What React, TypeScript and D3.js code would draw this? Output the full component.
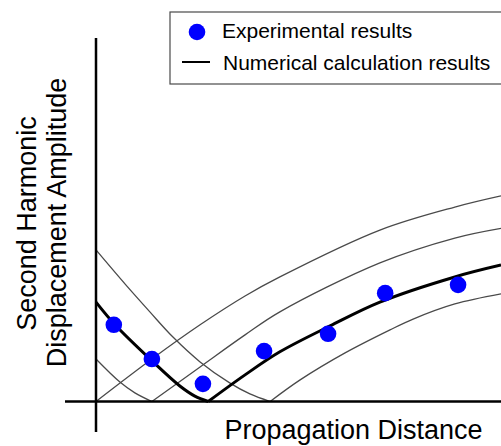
import React from "react";
import * as d3 from "d3";

// Propagation distance (arbitrary units, 0–100) and amplitude (arbitrary units, 0–100)
const curveARightX = [0, 13.8, 25.7, 36.8, 45.4, 70.1, 88.6, 100];
const curveARightY = [0, 11.8, 21.3, 29.3, 34.6, 47.6, 54.0, 57.1];

const curveBLeftX = [0, 5.9, 9.6, 13.8];
const curveBLeftY = [11.8, 5.4, 2.4, 0];
const curveBRightX = [13.8, 25.7, 36.8, 45.4, 70.1, 88.6, 100];
const curveBRightY = [0, 9.6, 18.5, 24.9, 38.5, 45.4, 48.1];

const numericLeftX = [0, 4.7, 13.8, 20.7, 24.4, 27.7];
const numericLeftY = [27.6, 21.3, 11.3, 4.3, 1.5, 0];
const numericRightX = [27.7, 36.8, 45.4, 57.8, 70.1, 88.6, 100];
const numericRightY = [0, 7.4, 13.8, 21.0, 27.6, 34.6, 37.9];

const curveDLeftX = [0, 7.2, 13.3, 19.0, 25.7, 33.1, 38.0, 43.0];
const curveDLeftY = [42.1, 32.6, 24.9, 17.9, 11.0, 5.1, 2.1, 0];
const curveDRightX = [43.0, 50.4, 61.5, 72.6, 78.3, 88.6, 100];
const curveDRightY = [0, 6.0, 13.5, 19.9, 22.9, 27.1, 29.9];

const experimentX = [4.4, 13.8, 26.4, 41.5, 57.3, 71.4, 89.4];
const experimentY = [21.3, 11.8, 4.9, 14.0, 18.8, 30.1, 32.4];

const legendLabels = ["Experimental results", "Numerical calculation results"];
const xTitle = "Propagation Distance";
const yTitleLines = ["Second Harmonic", "Displacement Amplitude"];

const W = 501;
const H = 446;

export default function App() {
  const x = d3.scaleLinear().domain([0, 100]).range([96, 501]);
  const y = d3.scaleLinear().domain([0, 100]).range([401.5, 41.5]);
  const line = d3
    .line<[number, number]>()
    .x((d) => x(d[0]))
    .y((d) => y(d[1]))
    .curve(d3.curveCatmullRom.alpha(0.5));

  const zip = (xs: number[], ys: number[]) =>
    xs.map((v, i) => [v, ys[i]] as [number, number]);

  const thin = [
    zip(curveARightX, curveARightY),
    zip(curveBLeftX, curveBLeftY),
    zip(curveBRightX, curveBRightY),
    zip(curveDLeftX, curveDLeftY),
    zip(curveDRightX, curveDRightY),
  ];
  const thick = [zip(numericLeftX, numericLeftY), zip(numericRightX, numericRightY)];
  const font = "'Liberation Sans', Arial, sans-serif";

  return (
    <svg
      width={W}
      height={H}
      style={{ position: "fixed", left: 0, top: 0, background: "#fff" }}
      fontFamily={font}
    >
      <rect x={0} y={0} width={W} height={H} fill="#fff" />
      {thin.map((d, i) => (
        <path key={"t" + i} d={line(d) || ""} fill="none" stroke="#4a4a4a" strokeWidth={1.3} />
      ))}
      {thick.map((d, i) => (
        <path key={"k" + i} d={line(d) || ""} fill="none" stroke="#000" strokeWidth={3} />
      ))}
      {/* axes */}
      <line x1={x(0)} x2={x(0)} y1={38} y2={432} stroke="#000" strokeWidth={2.5} />
      <line x1={65} x2={W} y1={y(0)} y2={y(0)} stroke="#000" strokeWidth={2.5} />
      {experimentX.map((v, i) => (
        <circle key={"c" + i} cx={x(v)} cy={y(experimentY[i])} r={8.3} fill="#0000ff" />
      ))}
      {/* legend */}
      <rect x={170} y={12} width={345} height={72} fill="#fff" stroke="#4a4a4a" strokeWidth={1.2} />
      <circle cx={197} cy={32} r={8.3} fill="#0000ff" />
      <line x1={182} x2={210} y1={62} y2={62} stroke="#000" strokeWidth={2} />
      <text x={222} y={37.5} fontSize={21} fill="#000">
        {legendLabels[0]}
      </text>
      <text x={223} y={69.5} fontSize={21} fill="#000">
        {legendLabels[1]}
      </text>
      {/* axis titles */}
      <text x={353.5} y={439} fontSize={27} textAnchor="middle" fill="#000">
        {xTitle}
      </text>
      <text
        transform="translate(36,223.5) rotate(-90)"
        fontSize={27}
        textAnchor="middle"
        fill="#000"
      >
        {yTitleLines[0]}
      </text>
      <text
        transform="translate(66,222.5) rotate(-90)"
        fontSize={27}
        textAnchor="middle"
        fill="#000"
      >
        {yTitleLines[1]}
      </text>
    </svg>
  );
}
